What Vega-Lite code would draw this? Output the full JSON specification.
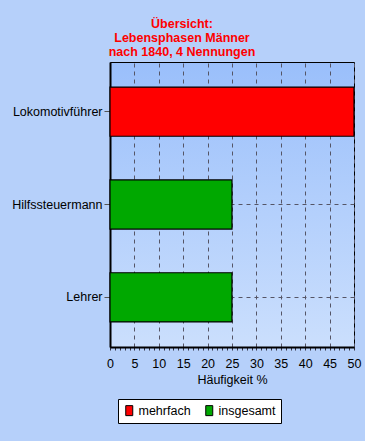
{
  "$schema": "https://vega.github.io/schema/vega-lite/v6.json",
  "width": 244,
  "height": 285,
  "autosize": "none",
  "padding": {"left": 110, "top": 62, "right": 11, "bottom": 94},
  "background": "#b6d0fa",
  "title": {
    "text": ["Übersicht:", "Lebensphasen Männer", "nach 1840, 4 Nennungen"],
    "color": "#ff0000",
    "font": "Liberation Sans",
    "fontSize": 12.5,
    "fontWeight": "bold",
    "anchor": "middle",
    "dx": -50,
    "offset": 4,
    "lineHeight": 14
  },
  "config": {
    "view": {
      "stroke": "#000000",
      "strokeWidth": 1,
      "fill": {
        "gradient": "linear",
        "x1": 0, "y1": 0, "x2": 0, "y2": 1,
        "stops": [
          {"offset": 0, "color": "#9abffb"},
          {"offset": 1, "color": "#cbdffd"}
        ]
      }
    },
    "font": "Liberation Sans"
  },
  "data": {
    "values": [
      {"beruf": "Lokomotivführer", "art": "mehrfach", "prozent": 50},
      {"beruf": "Hilfssteuermann", "art": "insgesamt", "prozent": 25},
      {"beruf": "Lehrer", "art": "insgesamt", "prozent": 25}
    ]
  },
  "mark": {"type": "bar", "stroke": "#000000", "strokeWidth": 1.2, "opacity": 1},
  "encoding": {
    "y": {
      "field": "beruf",
      "type": "nominal",
      "sort": ["Lokomotivführer", "Hilfssteuermann", "Lehrer"],
      "scale": {"paddingInner": 0.47, "paddingOuter": 0.27},
      "axis": {
        "title": null,
        "domainColor": "#000000",
        "domainWidth": 2,
        "tickColor": "#555555",
        "tickSize": 6,
        "labelPadding": 2,
        "labelFontSize": 12.5,
        "labelColor": "#000000",
        "grid": true,
        "gridColor": "#555566",
        "gridDash": [4, 4],
        "gridWidth": 1
      }
    },
    "x": {
      "field": "prozent",
      "type": "quantitative",
      "scale": {"domain": [0, 50], "nice": false},
      "axis": {
        "title": "Häufigkeit %",
        "titleFontSize": 12.5,
        "titleFontWeight": "normal",
        "titleColor": "#000000",
        "titlePadding": 4,
        "values": [0,1,2,3,4,5,6,7,8,9,10,11,12,13,14,15,16,17,18,19,20,21,22,23,24,25,26,27,28,29,30,31,32,33,34,35,36,37,38,39,40,41,42,43,44,45,46,47,48,49,50],
        "labelExpr": "datum.value % 5 === 0 ? datum.label : ''",
        "labelFontSize": 12.5,
        "labelColor": "#000000",
        "labelPadding": 7,
        "labelOverlap": false,
        "labelFlush": false,
        "domainColor": "#000000",
        "domainWidth": 2,
        "tickColor": "#333344",
        "tickSize": 3,
        "grid": true,
        "gridColor": "#555566",
        "gridDash": [4, 4],
        "gridOpacity": {"condition": {"test": "datum.value % 5 === 0", "value": 1}, "value": 0}
      }
    },
    "color": {
      "field": "art",
      "type": "nominal",
      "scale": {"domain": ["mehrfach", "insgesamt"], "range": ["#ff0000", "#00a800"]},
      "legend": {
        "title": null,
        "orient": "none",
        "direction": "horizontal",
        "legendX": 8,
        "legendY": 337,
        "fillColor": "#ffffff",
        "strokeColor": "#000000",
        "padding": 5,
        "symbolType": "M-0.7,-1H0.7V1H-0.7Z",
        "symbolSize": 100,
        "symbolStrokeColor": "#000000",
        "symbolStrokeWidth": 1,
        "symbolOpacity": 1,
        "labelFontSize": 12.5,
        "labelColor": "#000000",
        "labelOffset": 3,
        "columnPadding": 12
      }
    }
  }
}
